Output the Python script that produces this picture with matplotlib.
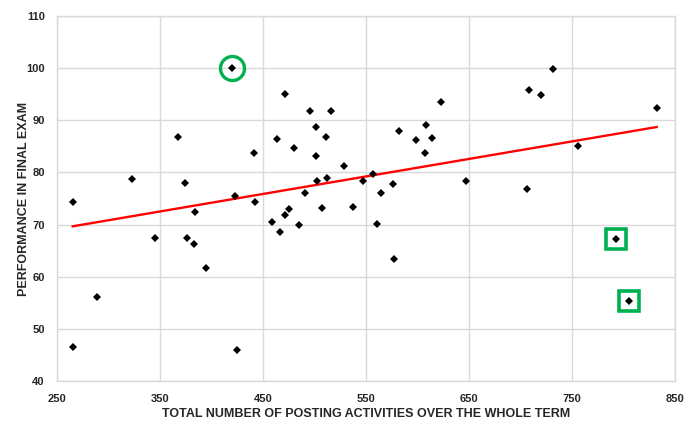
import numpy as np
import matplotlib
matplotlib.use("Agg")
import matplotlib.pyplot as plt

postings = [265, 265, 289, 323, 345, 367, 374, 375.6, 383, 383.7, 394.7,
            420, 423, 425, 441, 442, 458.7, 463, 466.5, 471, 470.7, 475,
            479.8, 484.7, 490.8, 495, 501, 501.5, 502.5, 507, 511, 511.8,
            516, 528.6, 537.4, 546.7, 556.7, 560.7, 564, 575.6, 577, 581.7,
            598.5, 606.7, 608.6, 613.5, 622.8, 646.8, 706.5, 707.7, 719.6,
            731.6, 755.3, 792.4, 805.3, 832.2]
exam = [74.4, 46.5, 56.2, 78.7, 67.5, 86.7, 78.0, 67.4, 66.2, 72.4, 61.7,
        100.0, 75.5, 45.9, 83.8, 74.3, 70.5, 86.5, 68.5, 95.0, 71.8, 73.0,
        84.7, 70.0, 76.0, 91.8, 88.7, 83.1, 78.4, 73.2, 86.7, 78.9,
        91.7, 81.2, 73.4, 78.4, 79.7, 70.2, 76.1, 77.7, 63.4, 87.9,
        86.2, 83.7, 89.1, 86.6, 93.6, 78.4, 76.9, 95.9, 94.8,
        99.8, 85.0, 67.2, 55.3, 92.4]
circled_idx = [11]
boxed_idx = [53, 54]
x_ticks = [250, 350, 450, 550, 650, 750, 850]
y_ticks = [40, 50, 60, 70, 80, 90, 100, 110]
x_title = "TOTAL NUMBER OF POSTING ACTIVITIES OVER THE WHOLE TERM"
y_title = "PERFORMANCE IN FINAL EXAM"

plt.rcParams['font.family'] = ['Liberation Sans', 'DejaVu Sans']

fig = plt.figure(figsize=(6.86, 4.23), dpi=100)
ax = fig.add_axes([57.3 / 686, 42 / 423, 617.7 / 686, 365 / 423])

x = np.array(postings)
y = np.array(exam)
ax.plot(x, y, linestyle='none', marker='D', markersize=3.6,
        markerfacecolor='black', markeredgewidth=0, color='black', zorder=4)

slope, intercept = np.polyfit(x, y, 1)
xl = np.array([x.min(), x.max()])
ax.plot(xl, slope * xl + intercept, color='#ff0000', linewidth=1.7, zorder=3)

green = '#00B050'
ax.plot(x[circled_idx], y[circled_idx], linestyle='none', marker='o',
        markersize=17.3, markerfacecolor='none', markeredgecolor=green,
        markeredgewidth=2.4, zorder=5)
ax.plot(x[boxed_idx], y[boxed_idx], linestyle='none', marker='s',
        markersize=14, markerfacecolor='none', markeredgecolor=green,
        markeredgewidth=2.6, zorder=5)

ax.set_xlim(250, 850)
ax.set_ylim(40, 110)
ax.set_xticks(x_ticks)
ax.set_yticks(y_ticks)
ax.grid(True, color='#d9d9d9', linewidth=1.0)
ax.set_axisbelow(True)
for s in ax.spines.values():
    s.set_color('#d9d9d9')
    s.set_linewidth(1.0)
ax.tick_params(length=0, labelsize=8, colors='#262626')
ax.tick_params(axis='x', pad=9)
ax.tick_params(axis='y', pad=9)
for lab in ax.get_xticklabels() + ax.get_yticklabels():
    lab.set_fontweight('bold')

ax.set_xlabel(x_title, fontsize=9, fontweight='bold', color='#262626', labelpad=3)
ax.set_ylabel(y_title, fontsize=9, fontweight='bold', color='#262626', labelpad=-3)

fig.savefig('out.png', dpi=100)
